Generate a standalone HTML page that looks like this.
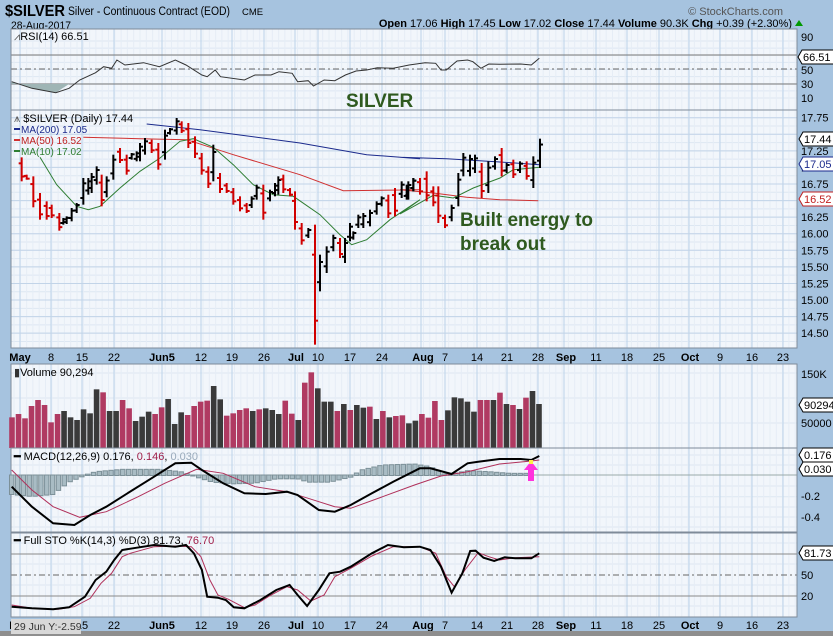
<!DOCTYPE html>
<html><head><meta charset="utf-8"><style>
html,body{margin:0;padding:0;background:#a6c3df;}
svg{display:block;font-family:"Liberation Sans",sans-serif;}
</style></head><body>
<svg id="s" width="833" height="636" xmlns="http://www.w3.org/2000/svg"></svg>
<script>
const S=document.getElementById('s');let h='';
const L=11,R=797;
function line(x1,y1,x2,y2,c,w,d){h+=`<line x1="${x1}" y1="${y1}" x2="${x2}" y2="${y2}" stroke="${c}" stroke-width="${w||1}"${d?` stroke-dasharray="${d}"`:''}/>`;}
function rect(x,y,w,hh,f,s){h+=`<rect x="${x}" y="${y}" width="${w}" height="${hh}" fill="${f}"${s?` stroke="${s}"`:''}/>`;}
function txt(x,y,t,sz,c,extra){h+=`<text x="${x}" y="${y}" font-size="${sz}" fill="${c||'#000'}" ${extra||''}>${t}</text>`;}
function poly(pts,c,w){h+=`<polyline fill="none" stroke="${c}" stroke-width="${w||1}" points="${pts.map(p=>p[0].toFixed(1)+','+p[1].toFixed(1)).join(' ')}"/>`;}
const weeks=[20,51,82,114,162,201,232,264,295,318,350,382,421,445,477,507,538,564,596,627,659,689,720,752,783];
function panel(y1,y2,hl,minor){
  rect(L,y1,R-L,y2-y1,'#f2f6fb');
  if(minor) minor.forEach(y=>line(L,y,R,y,'#dde7f2',1));
  for(let x=L+3;x<R;x+=6.3) line(x,y1,x,y2,'#e6edf6',1);
  weeks.forEach(x=>line(x,y1,x,y2,'#bcd3ea',1));
  hl.forEach(a=>line(L,a[0],R,a[0],a[1]||'#8a8a8a',1,a[2]));
  h+=`<rect x="${L}" y="${y1}" width="${R-L}" height="${y2-y1}" fill="none" stroke="#7f8b99"/>`;
}
function tag(x,y,t,c,bg){h+=`<polygon points="${x-4},${y} ${x},${y-7} ${x+32},${y-7} ${x+32},${y+7} ${x},${y+7}" fill="${bg||'#fff'}" stroke="${c}"/>`;txt(x+1,y+4,t,11,c);}
// header
txt(5,16,'$SILVER',16,'#000','font-weight="bold" textLength="60" lengthAdjust="spacingAndGlyphs"');
txt(68,15,'Silver - Continuous Contract (EOD)',11.5,'#000','textLength="162" lengthAdjust="spacingAndGlyphs"');txt(242,15,'CME',9.5,'#000');
txt(11,29,'28-Aug-2017',11,'#000','textLength="60" lengthAdjust="spacingAndGlyphs"');
txt(783,15,'© StockCharts.com',11,'#555','text-anchor="end"');
txt(792,27,'<tspan font-weight="bold">Open</tspan> 17.06 <tspan font-weight="bold">High</tspan> 17.45 <tspan font-weight="bold">Low</tspan> 17.02 <tspan font-weight="bold">Close</tspan> 17.44 <tspan font-weight="bold">Volume</tspan> 90.3K <tspan font-weight="bold">Chg</tspan> +0.39 (+2.30%)',11,'#000','text-anchor="end"');
h+=`<polygon points="795,26 799,20 803,26" fill="#090"/>`;
// RSI
const ry=v=>98-(v-10)*(57/80);
let rm=[];for(let v=10;v<=90;v+=10)rm.push(ry(v));
panel(29,110,[[55,'#777'],[84,'#777'],[69,'#666','6,3,2,3']],rm);
const rsi=[[22,245],[60,265],[105,278],[130,265],[150,240],[180,218],[195,200],[210,205],[220,180],[235,195],[270,188],[300,200],[330,180],[350,195],[380,225],[390,230],[405,210],[415,230],[460,240],[480,225],[510,225],[525,215],[550,220],[560,245],[580,242],[590,258],[610,240],[630,242],[650,225],[670,213],[690,210],[710,203],[740,205],[770,195],[800,188],[820,190],[830,210],[840,210],[860,183],[880,180],[890,185],[905,205],[920,192],[940,193],[980,192],[1000,195],[1015,175]].map(p=>[p[0]/1.882,p[1]/3]);
h+=`<polygon points="${rsi[0][0]},84 ${rsi[0][0]},${rsi[0][1]} ${rsi[1][0]},${rsi[1][1]} ${rsi[2][0]},${rsi[2][1]} ${rsi[3][0]},84" fill="#9fb5b5"/>`;
poly(rsi,'#333',1);
txt(14,40,'<tspan fill="#555">⩘</tspan>RSI(14) 66.51',11,'#000');
[[90,40],[50,73],[30,87],[10,101]].forEach(a=>txt(801,a[1]+1,a[0],11,'#000'));
tag(802,57,'66.51','#000');
txt(346,107,'SILVER',19,'#2f5a1f','font-weight="bold"');
// price
const py=p=>117.7+(17.75-p)*66.3;
let pm=[];for(let p=14.375;p<=17.75;p+=0.125)pm.push(py(p));
panel(110,348,[],pm);
for(let p=14.5;p<=17.76;p+=0.25)line(L,py(p),R,py(p),'#c2d4e8',1);
h+=`<rect x="${L}" y="110" width="${R-L}" height="238" fill="none" stroke="#7f8b99"/>`;
const A=[[65,148,220,'r'],[80,200,215,'r'],[100,205,298,'r'],[120,255,335,'r'],[140,280,335,'r'],[155,290,330,'r'],[178,315,368,'r'],[190,330,350,'b'],[200,325,348,'b'],[215,300,340,'b'],[230,285,315,'b'],[250,210,290,'b'],[265,210,260,'b'],[275,195,255,'b'],[290,175,230,'b'],[305,200,295,'r'],[320,205,268,'b'],[340,140,215,'b'],[360,120,165,'r'],[380,140,200,'r'],[395,135,155,'b'],[410,130,160,'b'],[420,105,160,'b'],[435,90,140,'b'],[455,95,135,'r'],[475,105,185,'r'],[495,65,155,'b'],[510,60,80,'b'],[530,30,80,'b'],[545,40,75,'r'],[565,45,120,'r'],[585,85,150,'r'],[605,135,200,'r'],[625,175,240,'r'],[640,110,220,'b'],[660,195,255,'r'],[680,225,255,'r'],[700,240,290,'r'],[720,265,310,'r'],[740,285,315,'r'],[755,265,300,'b'],[770,230,275,'b'],[790,230,335,'r'],[810,245,280,'b'],[825,225,265,'b'],[835,205,260,'b'],[850,200,255,'r'],[870,240,265,'r'],[885,250,365,'r'],[905,345,410,'r'],[925,360,390,'b'],[945,350,710,'r'],[960,440,550,'b'],[980,415,495,'b'],[1000,380,430,'b'],[1020,390,450,'r'],[1035,390,465,'b'],[1050,345,400,'b'],[1060,370,395,'b'],[1075,320,360,'b'],[1090,315,360,'b'],[1110,305,355,'b'],[1130,280,320,'b'],[1145,265,295,'b'],[1165,260,330,'r'],[1185,240,325,'r'],[1205,220,270,'b'],[1225,220,275,'b'],[1240,210,250,'b']];
const B=[[20,230,275,'b'],[40,210,250,'b'],[60,210,260,'r'],[80,190,280,'r'],[100,235,295,'r'],[115,235,345,'r'],[135,320,360,'r'],[155,290,340,'b'],[175,195,295,'b'],[190,135,205,'b'],[210,140,205,'b'],[225,140,195,'b'],[245,165,270,'r'],[265,160,255,'b'],[285,145,185,'b'],[305,120,205,'r'],[320,165,195,'b'],[340,155,210,'r'],[360,160,195,'b'],[380,160,215,'r'],[400,145,240,'b'],[420,92,180,'b']];
function bar(x,hi,lo,c){const col=c=='r'?'#d00000':'#000';const r=lo-hi;line(x,hi,x,lo,col,2);
 let o,cl;if(c=='r'){o=hi+r*0.25;cl=lo-r*0.2;}else{o=lo-r*0.25;cl=hi+r*0.2;}
 line(x-3,o,x,o,col,2);line(x,cl,x+3,cl,col,2);}
const z5=a=>a.map(p=>[p[0]/3,108+p[1]/3]),z6=a=>a.map(p=>[400+p[0]/3,108+p[1]/3]);
poly(z5([[440,48],[600,65],[900,105],[1100,140],[1260,152]]).concat(z6([[0,148],[140,152],[300,162],[420,170]])),'#1b2a8c',1);
poly(z5([[250,88],[420,92],[560,95],[700,140],[900,200],[1030,248],[1260,245]]).concat(z6([[0,245],[100,255],[200,268],[300,275],[415,278]])),'#d03030',1);
poly(z5([[120,148],[170,230],[230,295],[265,305],[300,295],[360,240],[420,190],[480,150],[540,100],[580,92],[640,118],[700,170],[760,230],[820,260],[880,265],[960,320],[1020,380],[1055,410],[1100,395],[1170,335],[1260,275]]).concat(z6([[0,318],[50,290],[100,262],[160,270],[220,240],[300,210],[340,185],[420,178]])),'#2e7d32',1);
A.forEach(b=>bar(b[0]/3,108+b[1]/3,108+b[2]/3,b[3]));
B.forEach(b=>bar(400+b[0]/3,108+b[1]/3,108+b[2]/3,b[3]));
txt(14,122,'<tspan fill="#555">⩚</tspan> $SILVER (Daily) 17.44',11,'#000');
rect(14,128,6,2,'#1b2a8c');txt(21,133,'MA(200) 17.05',10,'#1b2a8c');
rect(14,139,6,2,'#d03030');txt(21,144,'MA(50) 16.52',10,'#c02020');
rect(14,150,6,2,'#2e7d32');txt(21,155,'MA(10) 17.02',10,'#2e7d32');
for(let p=14.5;p<=17.76;p+=0.25){if(Math.abs(p-17.5)<0.01)continue;txt(801,py(p)+4,p.toFixed(2),11,'#000');}
tag(803,139,'17.44','#000');tag(803,164,'17.05','#1b2a8c');tag(803,199,'16.52','#c02020');
txt(460,226,'Built energy to',19,'#2f5a1f','font-weight="bold"');
txt(460,250,'break out',19,'#2f5a1f','font-weight="bold"');
function axis(y){const lab=[['May',20,1],['8',51],['15',82],['22',114],['Jun5',162,1],['12',201],['19',232],['26',264],['Jul',296,1],['10',318],['17',350],['24',382],['Aug',423,1],['7',445],['14',477],['21',507],['28',538],['Sep',566,1],['11',596],['18',627],['25',659],['Oct',690,1],['9',720],['16',752],['23',783]];
 lab.forEach(a=>txt(a[1],y,a[0],11,'#000',`text-anchor="middle"${a[2]?' font-weight="bold"':''}`));}
axis(361);
// volume
const vy=v=>448-v/2000;
panel(364,448,[],[vy(50000),vy(100000),vy(150000)]);
const V='r232,r222,r235,r198,r180,r195,r247,r222,b213,b232,b240,b208,b220,b148,r157,b213,b213,r180,r205,b243,b230,b215,r222,r202,b177,b252,b217,r225,r198,r185,r182,b138,b178,r227,r220,r210,r205,b213,r208,b205,b210,b222,r182,r221,b240,r128,r97,b145,b185,b185,r213,b192,r210,b195,b203,r200,b237,r213,b232,r228,r226,b250,b242,r222,r233,r183,r240,b211,b172,b175,b185,b215,r180,r180,b180,r158,b192,r195,b207,r173,b153,b192'.split(',');
const n=V.length;V.forEach((s,i)=>{const x=12+i*(527/(n-1));const t=340+(+s.slice(1))/3;rect(x-2.8,t,5.6,448-t,s[0]=='r'?'#b03a62':'#3a3a3a');});
txt(14,376,'<tspan fill="#333">▮</tspan>Volume 90,294',11,'#000');
txt(801,378,'150K',11,'#000');txt(801,427,'50000',11,'#000');
tag(803,405,'90294','#000');
// MACD
const mz=a=>a.map(p=>[p[0]/1.882,440+p[1]/3]);
panel(448,532,[[475,'#9aa']],[455,465,486,496.7,507,517,527]);
const hk=[[22,162],[60,168],[100,162],[130,125],[160,105],[180,95],[230,88],[300,88],[340,95],[370,110],[400,125],[440,130],[480,128],[520,115],[560,115],[580,125],[620,125],[660,110],[680,90],[720,75],[780,72],[810,80],[840,105],[880,92],[920,95],[960,100],[1000,100]];
function interp(k,x){for(let i=0;i<k.length-1;i++){if(x<=k[i+1][0]){const t=(x-k[i][0])/(k[i+1][0]-k[i][0]);return k[i][1]+t*(k[i+1][1]-k[i][1]);}}return k[k.length-1][1];}
for(let X=22;X<=1000;X+=11){const yv=440+interp(hk,X)/3;const x=X/1.882;const z=475;rect(x-2.2,Math.min(yv,z),4.4,Math.abs(yv-z)+0.5,'#a9bcc4','#7c9098');}
poly(mz([[22,90],[60,150],[100,200],[150,232],[200,215],[260,170],[310,130],[370,88],[420,100],[480,140],[540,155],[580,175],[630,200],[660,205],[720,170],[780,135],[830,108],[880,95],[940,72],[1000,63],[1015,60]]),'#b0305a',1);
poly(mz([[22,140],[60,200],[100,250],[140,255],[170,225],[200,200],[240,160],[290,110],[330,70],[360,68],[380,90],[420,130],[460,160],[500,162],[540,155],[560,165],[600,210],[630,215],[660,195],[700,160],[740,125],[790,85],[810,85],[850,102],[880,70],[900,65],[940,57],[980,57],[1000,60],[1015,48]]),'#000',2);
txt(14,460,'<tspan font-weight="bold">━</tspan> MACD(12,26,9) 0.176, <tspan fill="#a0204a">0.146</tspan>, <tspan fill="#9ab">0.030</tspan>',11,'#000');
txt(801,500,'-0.2',11,'#000');txt(801,521,'-0.4',11,'#000');
tag(803,455,'0.176','#000');tag(803,469,'0.030','#000');
h+=`<polygon points="531,461 524,470 528,470 528,481 534,481 534,470 538,470" fill="#ff33dd"/>`;rect(529,460,4,4,'#ffee44');
// STO
panel(533,617,[[554],[596],[575,'#666','6,3,2,3']],[543,564,585,606]);
const sz=a=>a.map(p=>[p[0]/1.882,520+p[1]/3]);
poly(sz([[22,255],[60,265],[110,268],[140,260],[170,235],[190,190],[210,160],[230,110],[245,100],[290,80],[330,78],[360,80],[378,110],[395,180],[410,225],[430,238],[460,263],[480,255],[510,225],[540,200],[560,210],[585,243],[610,225],[630,170],[660,145],[700,108],[740,80],[790,80],[820,100],[840,170],[855,200],[875,150],[900,98],[920,110],[940,120],[970,113],[1015,110]]),'#b0305a',1);
poly(sz([[22,260],[60,265],[100,268],[130,262],[160,230],[180,180],[200,155],[215,120],[230,90],[250,85],[290,75],[330,80],[350,75],[365,100],[380,150],[390,230],[410,233],[425,240],[440,262],[460,265],[490,240],[520,210],[545,195],[560,225],[578,258],[600,210],[620,160],[640,155],[660,140],[680,120],[700,100],[730,75],[760,82],[790,80],[810,90],[830,140],[850,218],[870,160],[885,93],[895,92],[910,113],[930,123],[950,112],[970,115],[1000,115],[1015,100]]),'#000',2);
txt(14,544,'<tspan font-weight="bold">━</tspan> Full STO %K(14,3) %D(3) 81.73, <tspan fill="#a0204a">76.70</tspan>',11,'#000');
txt(801,579,'50',11,'#000');txt(801,600,'20',11,'#000');
tag(803,553,'81.73','#000');
axis(629);
rect(0,631,833,5,'#8e8e8e');
rect(11,619,70,15,'#d8d8d8');txt(14,630,'29 Jun Y:-2.59',10.5,'#333');
S.innerHTML=h;
</script>
</body></html>
